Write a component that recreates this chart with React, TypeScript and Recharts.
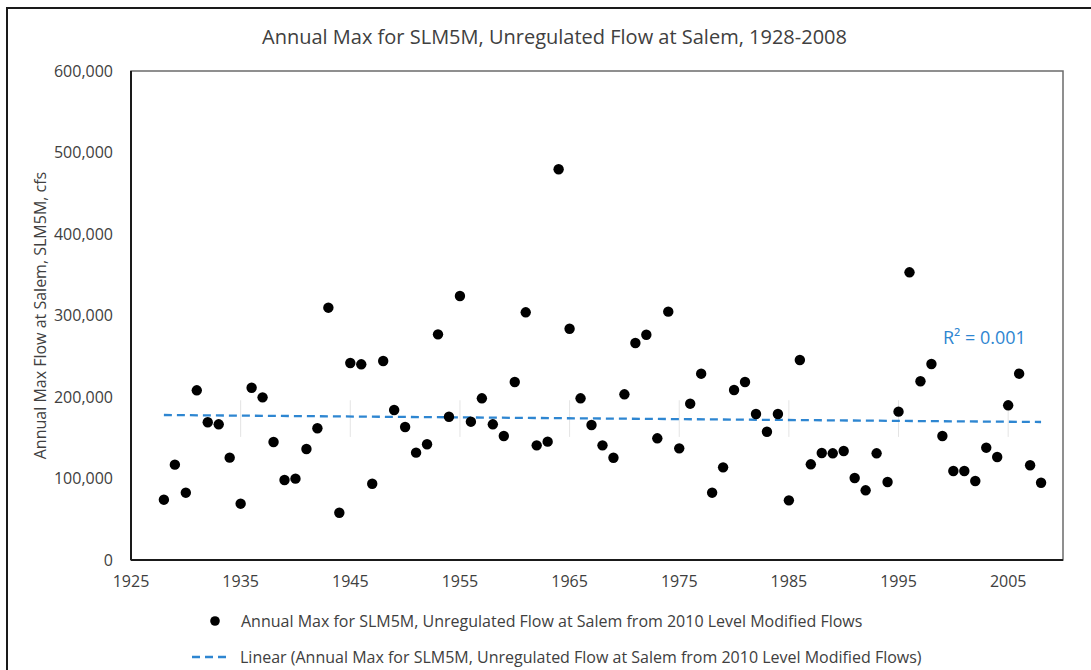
import React from "react";
import {
  ScatterChart,
  Scatter,
  XAxis,
  YAxis,
  ReferenceLine,
  ReferenceArea,
  Label,
} from "recharts";

const years: number[] = [
  1928, 1929, 1930, 1931, 1932, 1933, 1934, 1935, 1936, 1937, 1938, 1939, 1940,
  1941, 1942, 1943, 1944, 1945, 1946, 1947, 1948, 1949, 1950, 1951, 1952, 1953,
  1954, 1955, 1956, 1957, 1958, 1959, 1960, 1961, 1962, 1963, 1964, 1965, 1966,
  1967, 1968, 1969, 1970, 1971, 1972, 1973, 1974, 1975, 1976, 1977, 1978, 1979,
  1980, 1981, 1982, 1983, 1984, 1985, 1986, 1987, 1988, 1989, 1990, 1991, 1992,
  1993, 1994, 1995, 1996, 1997, 1998, 1999, 2000, 2001, 2002, 2003, 2004, 2005,
  2006, 2007, 2008,
];

const annualMax: number[] = [
  74000, 117000, 82600, 208200, 169000, 166500, 125600, 69100, 211400, 199600,
  144800, 98200, 99800, 136200, 161600, 309600, 58000, 241700, 240100, 93600,
  244200, 184000, 163200, 131700, 142000, 276900, 175800, 323900, 169700, 198400,
  166500, 152100, 218400, 303900, 140700, 145200, 479400, 283800, 198400, 165600,
  140700, 125500, 203300, 266300, 276400, 149300, 304700, 137000, 191800, 228600,
  82600, 113700, 208600, 218400, 179100, 157400, 179100, 73200, 245400, 117400,
  131300, 130900, 133700, 100600, 85500, 130900, 95700, 182000, 353000, 219300,
  240500, 152100, 109200, 109200, 96900, 137800, 126400, 189800, 228600, 116200,
  94800,
];

const xTicks: number[] = [1925, 1935, 1945, 1955, 1965, 1975, 1985, 1995, 2005];
const yTicks: number[] = [0, 100000, 200000, 300000, 400000, 500000, 600000];

// Linear trendline endpoints
const trendYears: number[] = [1928, 2008];
const trendValues: number[] = [177900, 169300];

// faint grey marks visible behind the trendline in the picture
const faintYears: number[] = [1935, 1945, 1955, 1965, 1975, 1985, 1995, 2005];
const faintRange: number[] = [151000, 196000];

const title = "Annual Max for SLM5M, Unregulated Flow at Salem, 1928-2008";
const yTitle = "Annual Max Flow at Salem, SLM5M, cfs";
const seriesName =
  "Annual Max for SLM5M, Unregulated Flow at Salem from 2010 Level Modified Flows";
const trendName =
  "Linear (Annual Max for SLM5M, Unregulated Flow at Salem from 2010 Level Modified Flows)";
const r2Text = "R² = 0.001";

const points = years.map((y, i) => ({ year: y, flow: annualMax[i] }));

const FONT = "'Open Sans', 'Noto Sans', sans-serif";
const TREND_COLOR = "#2E86D1";
const TEXT = "#404040";

const fmt = (v: number) => v.toLocaleString("en-US");

const Dot = (p: any) => <circle cx={p.cx} cy={p.cy} r={5.2} fill="#000" />;

export default function App() {
  return (
    <div
      style={{
        position: "absolute",
        left: 0,
        top: 0,
        width: 1091,
        height: 670,
        overflow: "hidden",
        background: "#fff",
      }}
    >
      <div
        style={{
          position: "absolute",
          left: 6,
          top: 7,
          width: 1120,
          height: 720,
          border: "2px solid #1a1a1a",
          boxSizing: "border-box",
        }}
      />
      <div
        style={{
          position: "absolute",
          left: 0,
          width: 1109,
          top: 23,
          textAlign: "center",
          fontFamily: FONT,
          fontSize: 20,
          color: TEXT,
          lineHeight: "28px",
        }}
      >
        {title}
      </div>
      <div style={{ position: "absolute", left: 0, top: 0 }}>
        <ScatterChart
          width={1091}
          height={670}
          margin={{ top: 71, right: 28, bottom: 0, left: 0 }}
        >
          <XAxis
            type="number"
            dataKey="year"
            domain={[1925, 2010]}
            ticks={xTicks}
            allowDataOverflow
            axisLine={{ stroke: "#1a1a1a", strokeWidth: 2 }}
            tickLine={false}
            tickMargin={10}
            height={110}
            tick={{ fill: TEXT, fontSize: 16, fontFamily: FONT }}
          />
          <YAxis
            type="number"
            dataKey="flow"
            domain={[0, 600000]}
            ticks={yTicks}
            tickFormatter={fmt}
            axisLine={{ stroke: "#1a1a1a", strokeWidth: 2 }}
            tickLine={false}
            tickMargin={12}
            width={131}
            tick={{ fill: TEXT, fontSize: 16, fontFamily: FONT }}
          >
            <Label
              content={(props: any) => {
                const vb = props.viewBox || {};
                const cy = (vb.y || 71) + (vb.height || 489) / 2;
                return (
                  <text
                    x={40}
                    y={cy}
                    transform={`rotate(-90, 40, ${cy})`}
                    textAnchor="middle"
                    dominantBaseline="central"
                    fill={TEXT}
                    fontSize={16}
                    fontFamily={FONT}
                  >
                    {yTitle}
                  </text>
                );
              }}
            />
          </YAxis>
          <ReferenceArea
            x1={1925}
            x2={2010}
            y1={0}
            y2={600000}
            fill="none"
            stroke="#6b6b6b"
            strokeWidth={1.5}
            ifOverflow="visible"
          />
          {faintYears.map((fy) => (
            <ReferenceLine
              key={fy}
              segment={[
                { x: fy, y: faintRange[0] },
                { x: fy, y: faintRange[1] },
              ]}
              stroke="#e4e4e4"
              strokeWidth={1}
            />
          ))}
          <ReferenceLine
            segment={[
              { x: trendYears[0], y: trendValues[0] },
              { x: trendYears[1], y: trendValues[1] },
            ]}
            stroke={TREND_COLOR}
            strokeWidth={2.3}
            strokeDasharray="8 5"
            ifOverflow="visible"
          />
          <Scatter
            name={seriesName}
            data={points}
            shape={Dot}
            isAnimationActive={false}
          />
        </ScatterChart>
      </div>
      <div
        style={{
          position: "absolute",
          left: 943,
          top: 324,
          fontFamily: FONT,
          fontSize: 18,
          color: TREND_COLOR,
          lineHeight: "26px",
        }}
      >
        {r2Text}
      </div>
      <div
        style={{
          position: "absolute",
          left: 0,
          top: 0,
          fontFamily: FONT,
          fontSize: 16,
          color: TEXT,
        }}
      >
        <div style={{ position: "absolute", left: 190, top: 607, height: 28, display: "flex", alignItems: "center", whiteSpace: "nowrap" }}>
          <svg width={51} height={20}>
            <circle cx={25} cy={10} r={4.8} fill="#000" />
          </svg>
          <span>{seriesName}</span>
        </div>
        <div style={{ position: "absolute", left: 190, top: 643, height: 28, display: "flex", alignItems: "center", whiteSpace: "nowrap" }}>
          <svg width={50} height={20}>
            <line x1={2} y1={10} x2={39} y2={10} stroke={TREND_COLOR} strokeWidth={2.3} strokeDasharray="8 5" />
          </svg>
          <span>{trendName}</span>
        </div>
      </div>
    </div>
  );
}
